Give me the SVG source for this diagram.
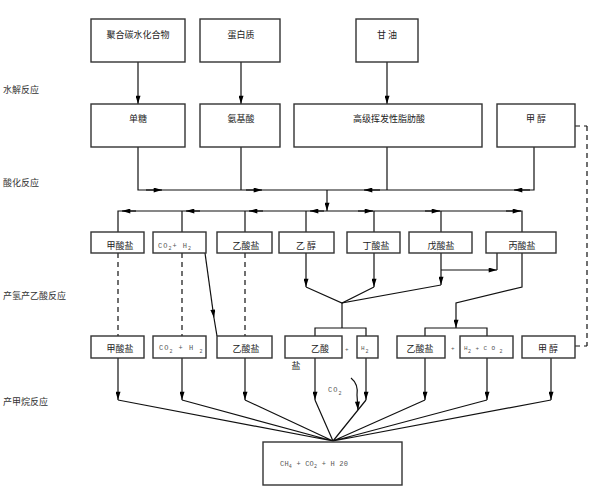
<svg xmlns="http://www.w3.org/2000/svg" width="598" height="502" viewBox="0 0 598 502">
<defs>
<marker id="ah" viewBox="0 0 10 6" refX="10" refY="3" markerWidth="10" markerHeight="5" markerUnits="userSpaceOnUse" orient="auto">
<path d="M0,0 L10,3 L0,6 z" fill="#000"/>
</marker>
<style>
.box{fill:#fff;stroke:#333;stroke-width:1.4}
.t{font-family:"Noto Sans CJK SC","Liberation Sans",sans-serif;font-size:9px;fill:#222;text-anchor:middle}
.lbl{font-family:"Noto Sans CJK SC","Liberation Sans",sans-serif;font-size:9px;fill:#333}
.f{font-family:"Liberation Mono",monospace;font-size:7px;fill:#555;letter-spacing:1px}
.c line,.c path,.c polyline{fill:none;stroke:#111;stroke-width:1.2}
.c .d{stroke-dasharray:5,4}
.c .a{marker-end:url(#ah)}
</style>
</defs>
<rect width="598" height="502" fill="#fff"/>

<g id="labels">
<text class="lbl" x="3" y="93">水解反应</text>
<text class="lbl" x="3" y="186">酸化反应</text>
<text class="lbl" x="3" y="299">产氢产乙酸反应</text>
<text class="lbl" x="3" y="405">产甲烷反应</text>
</g>

<g id="connectors" class="c">
<path class="a" d="M138,62 V104"/>
<path class="a" d="M241,62 V104"/>
<path class="a" d="M387,62 V104"/>
<path d="M138,147 V190 H534 V147"/>
<path d="M241,147 V190"/>
<path d="M387,147 V190"/>
<path class="a" d="M146,190 H162"/>
<path class="a" d="M246,190 H262"/>
<path class="a" d="M380,190 H364"/>
<path class="a" d="M530,190 H514"/>
<path class="a" d="M327,190 V211"/>
<path d="M118,232 V211 H522 V232"/>
<path d="M182,211 V232"/>
<path d="M245,211 V232"/>
<path d="M306,211 V232"/>
<path d="M374,211 V232"/>
<path d="M441,211 V232"/>
<path class="a" d="M136,211 H122"/>
<path class="a" d="M200,211 H186"/>
<path class="a" d="M263,211 H249"/>
<path class="a" d="M324,211 H310"/>
<path class="a" d="M358,211 H373"/>
<path class="a" d="M425,211 H440"/>
<path class="a" d="M506,211 H521"/>
<path class="d" d="M118,253 V336"/>
<path class="d" d="M182,253 V336"/>
<path class="d" d="M245,253 V336"/>
<path class="d" d="M587,126 V346"/>
<path class="d" d="M575,126 H587"/>
<path class="d" d="M575,346 H587"/>
<path class="a" d="M205,253 L214,318"/>
<path d="M214,318 L217,336"/>
<path class="a" d="M306,253 V287"/>
<path class="a" d="M374,253 V287"/>
<path class="a" d="M441,253 V285"/>
<path d="M306,287 L342,303 L374,287"/>
<path d="M441,285 L342,303 V328"/>
<path class="a" d="M441,270 H497"/>
<path d="M497,270 V253"/>
<path d="M315,336 V328 H366 V336"/>
<path class="a" d="M522,253 V287 L456,303 V328"/>
<path d="M425,336 V328 H487 V336"/>
<path class="a" d="M118,358 V400"/>
<path class="a" d="M182,358 V400"/>
<path class="a" d="M245,358 V400"/>
<path class="a" d="M315,358 V400"/>
<path class="a" d="M366,358 V400"/>
<path class="a" d="M425,358 V400"/>
<path class="a" d="M487,358 V400"/>
<path class="a" d="M551,358 V400"/>
<path d="M118,400 L333,441 M182,400 L333,441 M245,400 L333,441 M315,400 L333,441 M366,400 L333,441 M425,400 L333,441 M487,400 L333,441 M551,400 L333,441"/>
<path class="a" d="M351,378 C356,382 358,388 357,395 L358,410"/>
</g>

<g id="n1"><rect class="box" x="91" y="19" width="94" height="43"/><text class="t" x="138" y="38">聚合碳水化合物</text></g>
<g id="n2"><rect class="box" x="200" y="19" width="80" height="43"/><text class="t" x="241" y="38">蛋白质</text></g>
<g id="n3"><rect class="box" x="356" y="19" width="62" height="43"/><text class="t" x="387" y="38">甘 油</text></g>

<g id="n4"><rect class="box" x="91" y="104" width="94" height="43"/><text class="t" x="138" y="122">单糖</text></g>
<g id="n5"><rect class="box" x="200" y="104" width="80" height="43"/><text class="t" x="241" y="122">氨基酸</text></g>
<g id="n6"><rect class="box" x="294" y="104" width="188" height="43"/><text class="t" x="389" y="122">高级挥发性脂肪酸</text></g>
<g id="n7"><rect class="box" x="497" y="104" width="78" height="43"/><text class="t" x="536" y="122">甲 醇</text></g>

<g id="n8"><rect class="box" x="91" y="232" width="53" height="21"/><text class="t" x="120" y="249">甲酸盐</text></g>
<g id="n9"><rect class="box" x="153" y="232" width="53" height="21"/><text class="f" x="158" y="248">CO<tspan dy="2" font-size="5">2</tspan><tspan dy="-2">+ H</tspan><tspan dy="2" font-size="5">2</tspan></text></g>
<g id="n10"><rect class="box" x="217" y="232" width="55" height="21"/><text class="t" x="246" y="249">乙酸盐</text></g>
<g id="n11"><rect class="box" x="279" y="232" width="55" height="21"/><text class="t" x="306" y="249">乙 醇</text></g>
<g id="n12"><rect class="box" x="347" y="232" width="53" height="21"/><text class="t" x="376" y="249">丁酸盐</text></g>
<g id="n13"><rect class="box" x="409" y="232" width="63" height="21"/><text class="t" x="441" y="249">戊酸盐</text></g>
<g id="n14"><rect class="box" x="486" y="232" width="70" height="21"/><text class="t" x="522" y="249">丙酸盐</text></g>

<g id="n15"><rect class="box" x="91" y="336" width="53" height="22"/><text class="t" x="120" y="352">甲酸盐</text></g>
<g id="n16"><rect class="box" x="153" y="336" width="53" height="22"/><text class="f" x="159" y="350">CO<tspan dy="3" font-size="5">2</tspan><tspan dy="-3"> + H </tspan><tspan dy="3" font-size="5">2</tspan></text></g>
<g id="n17"><rect class="box" x="217" y="336" width="55" height="22"/><text class="t" x="246" y="352">乙酸盐</text></g>
<g id="n18"><rect class="box" x="285" y="336" width="57" height="22"/><text class="t" x="320" y="352">乙酸</text><text class="t" x="296" y="369">盐</text></g>
<text class="f" x="345" y="351" style="font-size:6px">+</text>
<g id="n19"><rect class="box" x="357" y="336" width="21" height="22"/><text class="f" x="361" y="350" style="font-size:6px">H<tspan dy="3" font-size="5">2</tspan></text></g>
<g id="n20"><rect class="box" x="397" y="336" width="48" height="22"/><text class="t" x="420" y="352">乙酸盐</text></g>
<text class="f" x="451" y="350" style="font-size:6px">+</text>
<g id="n21"><rect class="box" x="460" y="336" width="53" height="22"/><text class="f" x="464" y="350" style="font-size:6px;letter-spacing:0.4px">H<tspan dy="3" font-size="5">2</tspan><tspan dy="-3"> + C O </tspan><tspan dy="3" font-size="5">2</tspan></text></g>
<g id="n22"><rect class="box" x="522" y="336" width="53" height="22"/><text class="t" x="548" y="352">甲 醇</text></g>

<text id="co2" class="f" x="328" y="392">CO<tspan dy="3" font-size="5">2</tspan></text>

<g id="n23"><rect class="box" x="263" y="442" width="139" height="43"/><text class="f" x="280" y="466" style="letter-spacing:0.2px">CH<tspan dy="2" font-size="5">4</tspan><tspan dy="-2"> + CO</tspan><tspan dy="2" font-size="5">2</tspan><tspan dy="-2"> + H 20</tspan></text></g>
</svg>
